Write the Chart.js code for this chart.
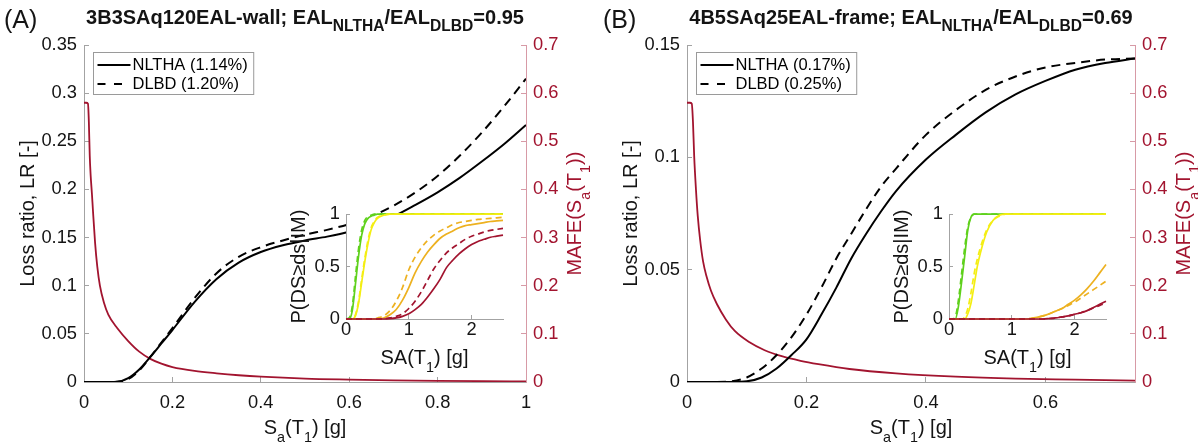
<!DOCTYPE html>
<html><head><meta charset="utf-8"><title>EAL comparison</title>
<script src="https://cdn.jsdelivr.net/npm/chart.js@4.4.1/dist/chart.umd.min.js"></script>
<style>
html,body{margin:0;padding:0;background:#fff;}
#wrap{position:relative;width:1198px;height:445px;overflow:hidden;background:#fff;}
#wrap canvas{position:absolute;}
</style></head><body>
<div id="wrap">
<canvas id="mainA" width="599" height="445" style="left:0px;top:0px;"></canvas>
<canvas id="mainB" width="599" height="445" style="left:599px;top:0px;"></canvas>
<canvas id="insetA" width="240" height="180" style="left:280px;top:195px;"></canvas>
<canvas id="insetB" width="240" height="180" style="left:883px;top:195px;"></canvas>
</div>
<script>
// ---------------- DATA ----------------
// Panel A : 3B3SAq120EAL-wall
const lossX_A   = [0, 0.05, 0.075, 0.1, 0.125, 0.15, 0.175, 0.2, 0.25, 0.3, 0.35, 0.4, 0.45, 0.5, 0.55, 0.6, 0.65, 0.7, 0.75, 0.8, 0.85, 0.9, 0.95, 1.0];
const nlthaLR_A = [0, 0, 0.0003, 0.004, 0.013, 0.026, 0.04, 0.054, 0.083, 0.107, 0.124, 0.135, 0.142, 0.147, 0.151, 0.156, 0.163, 0.172, 0.184, 0.197, 0.212, 0.229, 0.247, 0.267];
const dlbdLR_A  = [0, 0, 0.0002, 0.003, 0.012, 0.026, 0.041, 0.056, 0.087, 0.113, 0.13, 0.14, 0.147, 0.153, 0.158, 0.164, 0.172, 0.183, 0.197, 0.214, 0.235, 0.259, 0.286, 0.315];
const mafeX_A   = [0, 0.005, 0.009, 0.011, 0.013, 0.015, 0.018, 0.02, 0.025, 0.03, 0.036, 0.045, 0.055, 0.075, 0.1, 0.125, 0.15, 0.175, 0.2, 0.25, 0.3, 0.35, 0.4, 0.5, 0.6, 0.7, 0.8, 0.9, 1.0];
const mafe_A    = [0.58, 0.58, 0.578, 0.54, 0.47, 0.43, 0.39, 0.36, 0.29, 0.24, 0.2, 0.165, 0.14, 0.112, 0.085, 0.063, 0.048, 0.038, 0.031, 0.023, 0.018, 0.014, 0.011, 0.007, 0.005, 0.0035, 0.0025, 0.0018, 0.0013];
const legend_A  = ['NLTHA (1.14%)', 'DLBD (1.20%)'];

// Panel B : 4B5SAq25EAL-frame
const lossX_B   = [0, 0.05, 0.075, 0.1, 0.125, 0.15, 0.175, 0.2, 0.225, 0.25, 0.275, 0.3, 0.325, 0.35, 0.4, 0.45, 0.5, 0.55, 0.6, 0.65, 0.7, 0.75];
const nlthaLR_B = [0, 0, 0, 0.0003, 0.002, 0.006, 0.012, 0.019, 0.03, 0.042, 0.055, 0.066, 0.076, 0.085, 0.099, 0.11, 0.12, 0.128, 0.134, 0.139, 0.142, 0.144];
const dlbdLR_B  = [0, 0, 0.0003, 0.002, 0.006, 0.012, 0.02, 0.03, 0.042, 0.055, 0.066, 0.077, 0.087, 0.095, 0.11, 0.121, 0.13, 0.136, 0.14, 0.142, 0.1435, 0.144];
const mafeX_B   = [0, 0.005, 0.008, 0.01, 0.012, 0.015, 0.018, 0.022, 0.027, 0.033, 0.04, 0.05, 0.065, 0.08, 0.104, 0.13, 0.16, 0.19, 0.22, 0.272, 0.35, 0.45, 0.55, 0.65, 0.75];
const mafe_B    = [0.58, 0.58, 0.578, 0.54, 0.47, 0.4, 0.345, 0.295, 0.25, 0.218, 0.19, 0.162, 0.13, 0.106, 0.083, 0.066, 0.053, 0.044, 0.037, 0.027, 0.018, 0.011, 0.007, 0.005, 0.003];
const legend_B  = ['NLTHA (0.17%)', 'DLBD (0.25%)'];

// Inset fragility curves, P(DS>=ds|IM) vs SA(T1)
const fragX = [0,0.05,0.1,0.15,0.2,0.25,0.3,0.35,0.4,0.45,0.5,0.6,0.7,0.8,0.9,1.0,1.1,1.2,1.3,1.4,1.5,1.6,1.7,1.8,1.9,2.0,2.1,2.2,2.3,2.4,2.5];
const fragA_ds1_nltha = [0,0,0.08,0.33,0.6,0.8,0.91,0.96,0.98,0.99,1,1,1,1,1,1,1,1,1,1,1,1,1,1,1,1,1,1,1,1,1];
const fragA_ds1_dlbd  = [0,0.01,0.12,0.4,0.67,0.85,0.94,0.98,0.99,1,1,1,1,1,1,1,1,1,1,1,1,1,1,1,1,1,1,1,1,1,1];
const fragA_ds2_nltha = [0,0,0,0.03,0.15,0.35,0.55,0.72,0.85,0.92,0.96,0.99,1,1,1,1,1,1,1,1,1,1,1,1,1,1,1,1,1,1,1];
const fragA_ds2_dlbd  = [0,0,0,0.04,0.17,0.38,0.58,0.75,0.87,0.93,0.97,0.99,1,1,1,1,1,1,1,1,1,1,1,1,1,1,1,1,1,1,1];
const fragA_ds3_nltha = [0,0,0,0,0,0,0,0,0,0,0,0.01,0.04,0.09,0.18,0.3,0.44,0.55,0.64,0.71,0.77,0.81,0.84,0.87,0.89,0.9,0.91,0.92,0.93,0.935,0.94];
const fragA_ds3_dlbd  = [0,0,0,0,0,0,0,0,0,0.005,0.01,0.03,0.08,0.17,0.3,0.47,0.59,0.68,0.75,0.8,0.84,0.87,0.9,0.92,0.93,0.94,0.95,0.955,0.96,0.965,0.97];
const fragA_ds4_nltha = [0,0,0,0,0,0,0,0,0,0,0,0,0.003,0.01,0.025,0.05,0.09,0.14,0.21,0.29,0.38,0.49,0.56,0.62,0.67,0.71,0.74,0.76,0.78,0.79,0.8];
const fragA_ds4_dlbd  = [0,0,0,0,0,0,0,0,0,0,0,0.003,0.01,0.025,0.05,0.1,0.17,0.26,0.37,0.48,0.56,0.63,0.68,0.72,0.76,0.79,0.81,0.83,0.845,0.855,0.865];

const fragB_ds1_nltha = [0,0,0,0.12,0.35,0.6,0.85,0.97,1,1,1,1,1,1,1,1,1,1,1,1,1,1,1,1,1,1,1,1,1,1,1];
const fragB_ds1_dlbd  = [0,0,0.02,0.18,0.43,0.68,0.88,0.97,1,1,1,1,1,1,1,1,1,1,1,1,1,1,1,1,1,1,1,1,1,1,1];
const fragB_ds2_nltha = [0,0,0,0,0,0,0.05,0.15,0.32,0.5,0.63,0.83,0.94,0.99,1,1,1,1,1,1,1,1,1,1,1,1,1,1,1,1,1];
const fragB_ds2_dlbd  = [0,0,0,0,0,0.02,0.1,0.25,0.43,0.57,0.68,0.85,0.94,0.98,1,1,1,1,1,1,1,1,1,1,1,1,1,1,1,1,1];
const fragB_ds3_nltha = [0,0,0,0,0,0,0,0,0,0,0,0,0,0,0,0,0,0,0.005,0.015,0.03,0.05,0.075,0.1,0.14,0.18,0.23,0.29,0.36,0.44,0.52];
const fragB_ds3_dlbd  = [0,0,0,0,0,0,0,0,0,0,0,0,0,0,0,0,0,0,0.005,0.015,0.03,0.05,0.075,0.1,0.13,0.16,0.2,0.24,0.28,0.32,0.36];
const fragB_ds4_nltha = [0,0,0,0,0,0,0,0,0,0,0,0,0,0,0,0,0,0,0,0,0,0.005,0.01,0.02,0.03,0.045,0.06,0.08,0.11,0.14,0.17];
const fragB_ds4_dlbd  = [0,0,0,0,0,0,0,0,0,0,0,0,0,0,0,0,0,0,0,0,0,0.005,0.01,0.02,0.03,0.045,0.06,0.08,0.105,0.13,0.155];

// Tick values
const xTicks_A  = [0, 0.2, 0.4, 0.6, 0.8, 1];
const yLTicks_A = [0, 0.05, 0.1, 0.15, 0.2, 0.25, 0.3, 0.35];
const xTicks_B  = [0, 0.2, 0.4, 0.6];
const yLTicks_B = [0, 0.05, 0.1, 0.15];
const yRTicks   = [0, 0.1, 0.2, 0.3, 0.4, 0.5, 0.6, 0.7];
const fragXTicks = [0, 1, 2];
const fragYTicks = [0, 0.5, 1];

// ---------------- STYLE ----------------
const FONT = "'Liberation Sans', Arial, Helvetica, sans-serif";
const TXT = '#141414';
const RED = '#A2142F';
const AXIS = '#a3a3a3';
const RAXIS = '#d79aa6';
const GREEN = '#5fd11c';
const YELLOW = '#f4ee12';
const ORANGE = '#EDB120';
const TICK_SIZE = 18.3;
const LABEL_SIZE = 20;

function pts(xs, ys) { return xs.map((x, i) => ({ x: x, y: ys[i] })); }
function tickArr(arr) { return s => { s.ticks = arr.map(v => ({ value: v })); }; }
function fmt(v) { return String(+(+v).toFixed(4)); }

function drawRich(ctx, parts, x, y, o) {
  const size = o.size, subScale = o.subScale || 0.72, subDy = (o.subDy || 0.42) * size;
  const weight = o.bold ? 'bold ' : '';
  ctx.save();
  ctx.translate(x, y);
  if (o.rotate) ctx.rotate(o.rotate);
  ctx.fillStyle = o.color || TXT;
  ctx.textBaseline = 'alphabetic';
  ctx.textAlign = 'left';
  const fonts = parts.map(p => weight + (p[1] ? size * subScale : size) + 'px ' + FONT);
  const widths = parts.map((p, i) => { ctx.font = fonts[i]; return ctx.measureText(p[0]).width; });
  const total = widths.reduce((a, b) => a + b, 0);
  let cx = o.align === 'left' ? 0 : -total / 2;
  const base = o.middle ? size * 0.36 : 0;
  parts.forEach((p, i) => {
    ctx.font = fonts[i];
    ctx.fillText(p[0], cx, base + (p[1] ? subDy : 0));
    cx += widths[i];
  });
  ctx.restore();
}

function textPlugin(specs) {
  return { id: 'richText', afterDraw(chart) {
    const ca = chart.chartArea, ctx = chart.ctx;
    specs.forEach(s => { const p = s.pos(ca); drawRich(ctx, s.parts, p[0], p[1], s); });
  }};
}

function legendPlugin(labels) {
  return { id: 'boxLegend', afterDraw(chart) {
    const ca = chart.chartArea, ctx = chart.ctx;
    const size = 16.5;
    ctx.save();
    ctx.font = size + 'px ' + FONT;
    const tw = Math.max(...labels.map(l => ctx.measureText(l).width));
    const bx = Math.round(ca.left + 9) + 0.5, by = Math.round(ca.top + 7) + 0.5;
    const bw = 40 + tw + 5, bh = 42;
    ctx.fillStyle = '#fff';
    ctx.fillRect(bx, by, bw, bh);
    ctx.strokeStyle = '#9a9a9a'; ctx.lineWidth = 1;
    ctx.strokeRect(bx, by, bw, bh);
    const rows = [by + 12.5, by + 31.5];
    ctx.strokeStyle = '#000'; ctx.lineWidth = 1.8;
    rows.forEach((ry, i) => {
      ctx.setLineDash(i === 0 ? [] : [8, 8.5]);
      ctx.beginPath(); ctx.moveTo(bx + 4, ry); ctx.lineTo(bx + 37, ry); ctx.stroke();
    });
    ctx.setLineDash([]);
    ctx.fillStyle = '#000'; ctx.textBaseline = 'middle'; ctx.textAlign = 'left';
    rows.forEach((ry, i) => ctx.fillText(labels[i], bx + 39, ry + 0.5));
    ctx.restore();
  }};
}

const whiteArea = { id: 'whiteArea', beforeDraw(chart) {
  const ca = chart.chartArea, ctx = chart.ctx;
  ctx.save(); ctx.fillStyle = '#fff';
  ctx.fillRect(ca.left, ca.top, ca.right - ca.left, ca.bottom - ca.top);
  ctx.restore();
}};

function tickFont() { return { family: FONT, size: TICK_SIZE, lineHeight: 1 }; }

function mainChart(id, P) {
  const W = 599, H = 445;
  return new Chart(document.getElementById(id), {
    type: 'line',
    data: { datasets: [
      { label: P.legend[0], data: pts(P.lossX, P.nltha), yAxisID: 'yL', borderColor: '#000', borderWidth: 2, order: 0 },
      { label: P.legend[1], data: pts(P.lossX, P.dlbd), yAxisID: 'yL', borderColor: '#000', borderWidth: 2, borderDash: [9, 6], order: 1 },
      { label: 'MAFE', data: pts(P.mafeX, P.mafe), yAxisID: 'yR', borderColor: RED, borderWidth: 1.8, order: 2 }
    ]},
    options: {
      responsive: false, animation: false, events: [],
      elements: { point: { radius: 0 }, line: { cubicInterpolationMode: 'monotone', fill: false, borderJoinStyle: 'round' } },
      layout: { padding: { top: P.caTop, left: 0, right: 0, bottom: 0 } },
      plugins: { legend: { display: false }, tooltip: { enabled: false }, title: { display: false } },
      scales: {
        x: { type: 'linear', position: 'bottom', min: 0, max: P.xMax,
          afterBuildTicks: tickArr(P.xTicks), afterFit: s => { s.height = H - P.caBottom; },
          ticks: { color: TXT, font: tickFont(), padding: 17, callback: fmt, maxRotation: 0, autoSkip: false, includeBounds: false },
          grid: { drawOnChartArea: false, drawTicks: true, tickLength: -5, color: AXIS, lineWidth: 1 },
          border: { display: true, color: AXIS, width: 1 } },
        yL: { type: 'linear', position: 'left', min: 0, max: P.yMax,
          afterBuildTicks: tickArr(P.yTicks), afterFit: s => { s.width = P.caLeft; },
          ticks: { color: TXT, font: tickFont(), padding: 12, callback: fmt, autoSkip: false, includeBounds: false },
          grid: { drawOnChartArea: false, drawTicks: true, tickLength: -5, color: AXIS, lineWidth: 1 },
          border: { display: true, color: AXIS, width: 1 } },
        yR: { type: 'linear', position: 'right', min: 0, max: 0.7,
          afterBuildTicks: tickArr(yRTicks), afterFit: s => { s.width = W - P.caRight; },
          ticks: { color: RED, font: tickFont(), padding: 12, callback: fmt, autoSkip: false, includeBounds: false },
          grid: { drawOnChartArea: false, drawTicks: true, tickLength: -5, color: RAXIS, lineWidth: 1 },
          border: { display: true, color: RAXIS, width: 1 } }
      }
    },
    plugins: [legendPlugin(P.legend), textPlugin([
      { parts: P.title, size: 20, bold: true, subScale: 0.78, subDy: 0.36, pos: ca => [(ca.left + ca.right) / 2, 24] },
      { parts: [[P.tag]], size: 25, align: 'left', pos: ca => [4, 28] },
      { parts: [['Loss ratio, LR [-]']], size: LABEL_SIZE, rotate: -Math.PI / 2, middle: true, pos: ca => [ca.left - 57, (ca.top + ca.bottom) / 2] },
      { parts: [['MAFE(S'], ['a', 1], ['(T'], ['1', 1], ['))']], size: LABEL_SIZE, color: RED, rotate: -Math.PI / 2, middle: true, pos: ca => [ca.right + 48, (ca.top + ca.bottom) / 2] },
      { parts: [['S'], ['a', 1], ['(T'], ['1', 1], [') [g]']], size: LABEL_SIZE, pos: ca => [(ca.left + ca.right) / 2, 434] }
    ])]
  });
}

function insetChart(id, F) {
  const colors = [GREEN, YELLOW, ORANGE, RED];
  const ds = [];
  F.forEach((pair, i) => {
    ds.push({ data: pts(fragX, pair[0]), borderColor: colors[i], borderWidth: 1.7, order: 10 - 2 * i, clip: false });
    ds.push({ data: pts(fragX, pair[1]), borderColor: colors[i], borderWidth: 1.7, borderDash: [6, 4], order: 9 - 2 * i, clip: false });
  });
  return new Chart(document.getElementById(id), {
    type: 'line',
    data: { datasets: ds },
    options: {
      responsive: false, animation: false, events: [],
      elements: { point: { radius: 0 }, line: { cubicInterpolationMode: 'monotone', fill: false } },
      layout: { padding: { top: 19, right: 17, left: 0, bottom: 0 } },
      plugins: { legend: { display: false }, tooltip: { enabled: false } },
      scales: {
        x: { type: 'linear', min: 0, max: 2.5, afterBuildTicks: tickArr(fragXTicks), afterFit: s => { s.height = 56; },
          ticks: { color: TXT, font: tickFont(), padding: 6, callback: fmt, maxRotation: 0, autoSkip: false, includeBounds: false },
          grid: { drawOnChartArea: false, drawTicks: true, tickLength: -4, color: AXIS },
          border: { display: true, color: AXIS, width: 1 } },
        y: { type: 'linear', min: 0, max: 1, afterBuildTicks: tickArr(fragYTicks), afterFit: s => { s.width = 66; },
          ticks: { color: TXT, font: tickFont(), padding: 10, callback: fmt, autoSkip: false, includeBounds: false },
          grid: { drawOnChartArea: false, drawTicks: true, tickLength: -4, color: AXIS },
          border: { display: true, color: AXIS, width: 1 } }
      }
    },
    plugins: [whiteArea, textPlugin([
      { parts: [['P(DS\u2265ds|IM)']], size: LABEL_SIZE, rotate: -Math.PI / 2, middle: true, pos: ca => [ca.left - 48, (ca.top + ca.bottom) / 2] },
      { parts: [['SA(T'], ['1', 1], [') [g]']], size: LABEL_SIZE, pos: ca => [(ca.left + ca.right) / 2, ca.bottom + 45] }
    ])]
  });
}

mainChart('mainA', {
  lossX: lossX_A, nltha: nlthaLR_A, dlbd: dlbdLR_A, mafeX: mafeX_A, mafe: mafe_A, legend: legend_A,
  xMax: 1, yMax: 0.35, xTicks: xTicks_A, yTicks: yLTicks_A,
  caLeft: 84, caRight: 526, caTop: 45, caBottom: 382, tag: '(A)',
  title: [['3B3SAq120EAL-wall; EAL'], ['NLTHA', 1], ['/EAL'], ['DLBD', 1], ['=0.95']]
});
mainChart('mainB', {
  lossX: lossX_B, nltha: nlthaLR_B, dlbd: dlbdLR_B, mafeX: mafeX_B, mafe: mafe_B, legend: legend_B,
  xMax: 0.75, yMax: 0.15, xTicks: xTicks_B, yTicks: yLTicks_B,
  caLeft: 88, caRight: 536, caTop: 45, caBottom: 382, tag: '(B)',
  title: [['4B5SAq25EAL-frame; EAL'], ['NLTHA', 1], ['/EAL'], ['DLBD', 1], ['=0.69']]
});
insetChart('insetA', [[fragA_ds1_nltha, fragA_ds1_dlbd], [fragA_ds2_nltha, fragA_ds2_dlbd], [fragA_ds3_nltha, fragA_ds3_dlbd], [fragA_ds4_nltha, fragA_ds4_dlbd]]);
insetChart('insetB', [[fragB_ds1_nltha, fragB_ds1_dlbd], [fragB_ds2_nltha, fragB_ds2_dlbd], [fragB_ds3_nltha, fragB_ds3_dlbd], [fragB_ds4_nltha, fragB_ds4_dlbd]]);
</script>
</body></html>
